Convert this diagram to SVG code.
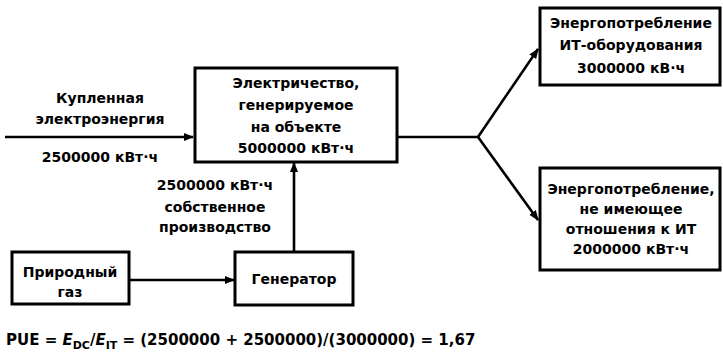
<svg xmlns="http://www.w3.org/2000/svg" width="723" height="356" viewBox="0 0 723 356">
<style>
.box{fill:#fff;stroke:#000;stroke-width:3}
.ln{fill:none;stroke:#000;stroke-width:2.6}
text{font-family:"DejaVu Sans","Liberation Sans",Arial,sans-serif;font-weight:bold;font-size:14px;fill:#000;text-anchor:middle}
.f{text-anchor:start;font-size:15px}
</style>
<defs>
<marker id="ah" viewBox="0 0 10 10" refX="9" refY="5" markerWidth="4" markerHeight="4" orient="auto" markerUnits="strokeWidth">
<path d="M0,1 L10,5 L0,9 z" fill="#000"/>
</marker>
</defs>
<rect width="723" height="356" fill="#fff"/>
<g id="connectors">
<line class="ln" x1="5" y1="137" x2="193" y2="137" marker-end="url(#ah)"/>
<line class="ln" x1="397" y1="137" x2="478" y2="137"/>
<line class="ln" x1="478" y1="137" x2="538" y2="49" marker-end="url(#ah)"/>
<line class="ln" x1="478" y1="137" x2="538" y2="220" marker-end="url(#ah)"/>
<line class="ln" x1="129" y1="280" x2="234" y2="280" marker-end="url(#ah)"/>
<line class="ln" x1="294" y1="252" x2="294" y2="163" marker-end="url(#ah)"/>
</g>
<g id="label-purchased">
<text x="100" y="103">Купленная</text>
<text x="100" y="124">электроэнергия</text>
<text x="100" y="162">2500000 кВт·ч</text>
</g>
<g id="label-own">
<text x="215" y="190">2500000 кВт·ч</text>
<text x="215" y="212">собственное</text>
<text x="215" y="232">производство</text>
</g>
<g id="node-main">
<rect class="box" x="195" y="68" width="202" height="94"/>
<text x="296" y="88">Электричество,</text>
<text x="296" y="110">генерируемое</text>
<text x="296" y="132">на объекте</text>
<text x="296" y="153">5000000 кВт·ч</text>
</g>
<g id="node-it">
<rect class="box" x="540" y="8" width="180" height="77"/>
<text x="631" y="28">Энергопотребление</text>
<text x="631" y="50">ИТ-оборудования</text>
<text x="631" y="73">3000000 кВ·ч</text>
</g>
<g id="node-nonit">
<rect class="box" x="540" y="168" width="180" height="102"/>
<text x="631" y="194">Энергопотребление,</text>
<text x="631" y="214">не имеющее</text>
<text x="631" y="234">отношения к ИТ</text>
<text x="631" y="254">2000000 кВт·ч</text>
</g>
<g id="node-gas">
<rect class="box" x="12" y="252" width="117" height="52"/>
<text x="70" y="277">Природный</text>
<text x="70" y="297">газ</text>
</g>
<g id="node-generator">
<rect class="box" x="235" y="252" width="118" height="53"/>
<text x="294" y="284">Генератор</text>
</g>
<g id="formula">
<text class="f" x="6" y="345">PUE = <tspan font-style="italic">E</tspan><tspan font-size="11" dy="4">DC</tspan><tspan dy="-4">/</tspan><tspan font-style="italic">E</tspan><tspan font-size="11" dy="4">IT</tspan><tspan dy="-4"> = (2500000 + 2500000)/(3000000) = 1,67</tspan></text>
</g>
</svg>
